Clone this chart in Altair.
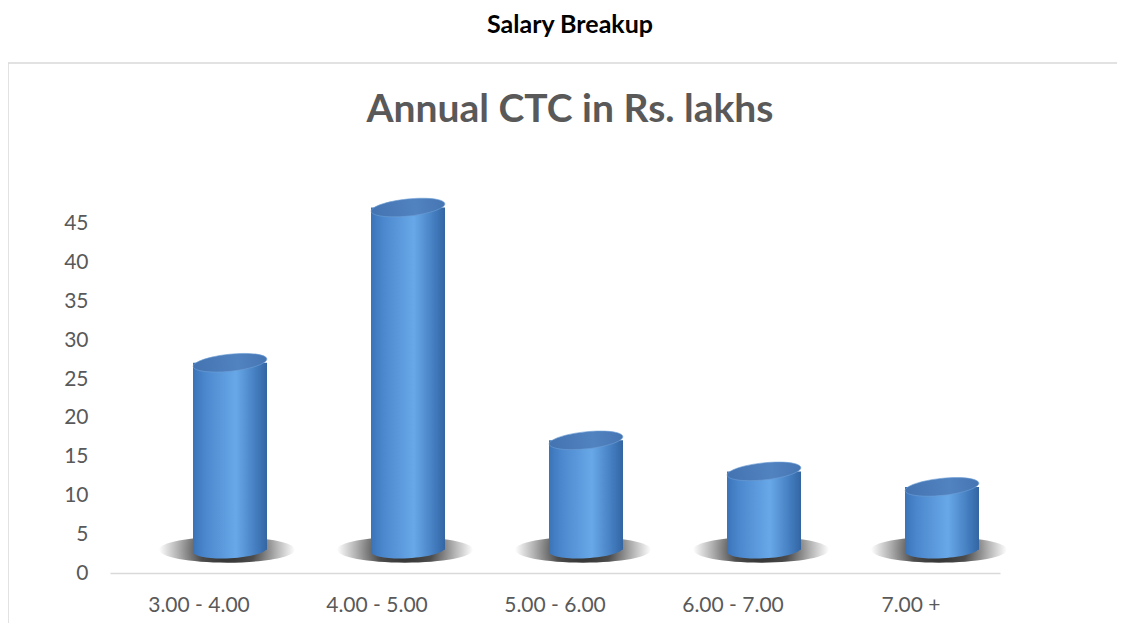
import altair as alt
import pandas as pd

# ---- data ----
categories = ["3.00 - 4.00", "4.00 - 5.00", "5.00 - 6.00", "6.00 - 7.00", "7.00 +"]
counts = [26, 46, 16, 12, 10]
y_ticks = [0, 5, 10, 15, 20, 25, 30, 35, 40, 45]
floor_value = 3  # apparent 3D floor level of the cylinders
main_title = "Salary Breakup"
chart_title = "Annual CTC in Rs. lakhs"

df = pd.DataFrame({"range": categories, "count": counts})

FONT = "Lato"
GREY = "#595959"
PLOT_W, PLOT_H = 890, 388
CYL_W = 74
CYL_DX = 31


def ellipse_path(ry):
    k = 0.5523
    return (
        f"M -1 0 C -1 {-k*ry:.4f} {-k:.4f} {-ry:.4f} 0 {-ry:.4f} "
        f"C {k:.4f} {-ry:.4f} 1 {-k*ry:.4f} 1 0 "
        f"C 1 {k*ry:.4f} {k:.4f} {ry:.4f} 0 {ry:.4f} "
        f"C {-k:.4f} {ry:.4f} -1 {k*ry:.4f} -1 0 Z"
    )


body_grad = alt.Gradient(
    gradient="linear", x1=0, x2=1, y1=0, y2=0,
    stops=[
        alt.GradientStop(offset=0, color="#3b73b8"),
        alt.GradientStop(offset=0.15, color="#4a86cc"),
        alt.GradientStop(offset=0.58, color="#68a8e8"),
        alt.GradientStop(offset=0.88, color="#4079bb"),
        alt.GradientStop(offset=1, color="#3465a2"),
    ],
)
top_grad = alt.Gradient(
    gradient="linear", x1=0, x2=1, y1=0, y2=0,
    stops=[
        alt.GradientStop(offset=0, color="#4373b0"),
        alt.GradientStop(offset=0.6, color="#5283c1"),
        alt.GradientStop(offset=1, color="#4575b2"),
    ],
)
shadow_grad = alt.Gradient(
    gradient="radial", x1=0.5, y1=0.5, r1=0, x2=0.5, y2=0.5, r2=0.5,
    stops=[
        alt.GradientStop(offset=0, color="#2a2a2a"),
        alt.GradientStop(offset=0.4, color="#4d4d4d"),
        alt.GradientStop(offset=0.72, color="#b0b0b0"),
        alt.GradientStop(offset=1, color="#ffffff"),
    ],
)

x_enc = alt.X(
    "range:N", sort=categories, title=None,
    scale=alt.Scale(paddingInner=0, paddingOuter=0),
    axis=alt.Axis(
        labelAngle=0, labelFontSize=21, labelColor=GREY, labelFont=FONT,
        labelPadding=21, ticks=False, domainColor="#d9d9d9", domainWidth=1.5,
        grid=False,
    ),
)
y_scale = alt.Scale(domain=[0, 50], nice=False)
y_enc = alt.Y(
    "count:Q", title=None, scale=y_scale,
    axis=alt.Axis(
        values=y_ticks, labelFontSize=21, labelColor=GREY, labelFont=FONT,
        labelPadding=22, ticks=False, domain=False, grid=False,
    ),
)

base = alt.Chart(df)

shadow = base.mark_point(
    shape=ellipse_path(0.19), filled=True, fill=shadow_grad, opacity=1,
    strokeWidth=0, size=136 * 136, xOffset=CYL_DX - 3, yOffset=0,
).encode(x=x_enc, y=alt.datum(floor_value, scale=y_scale))

bottom = base.mark_point(
    shape=ellipse_path(0.23), filled=True, fill=body_grad, opacity=1,
    strokeWidth=0, size=CYL_W * CYL_W, xOffset=CYL_DX, angle=357,
).encode(x=x_enc, y=alt.datum(floor_value, scale=y_scale))

body = base.mark_bar(
    width=CYL_W, xOffset=CYL_DX, yOffset=-8.5, fill=body_grad, opacity=1,
).encode(x=x_enc, y=y_enc, y2=alt.datum(floor_value))

top = base.mark_point(
    shape=ellipse_path(0.23), filled=True, fill=top_grad, opacity=1,
    stroke="#6d9fd6", strokeWidth=0.6, size=CYL_W * CYL_W,
    xOffset=CYL_DX, yOffset=-8.5, angle=354,
).encode(x=x_enc, y=y_enc)

single = alt.Data(values=[{}])

border = alt.Chart(single).mark_rect(
    filled=False, stroke="#d9d9d9", strokeWidth=1.5,
).encode(
    x=alt.value(-102), x2=alt.value(1100), y=alt.value(-122), y2=alt.value(500)
)

title1 = alt.Chart(single).mark_text(
    text=main_title, font=FONT, fontSize=25, fontWeight="bold",
    color="#000000", align="center", baseline="alphabetic",
).encode(x=alt.value(460), y=alt.value(-152))

title2 = alt.Chart(single).mark_text(
    text=chart_title, font=FONT, fontSize=39, fontWeight="bold",
    color=GREY, align="center", baseline="alphabetic",
).encode(x=alt.value(460), y=alt.value(-63))

chart = (
    alt.layer(border, title1, title2, shadow, bottom, body, top)
    .properties(
        width=PLOT_W,
        height=PLOT_H,
        autosize=alt.AutoSizeParams(type="none"),
        padding={"left": 102, "top": 177, "right": 117, "bottom": 50},
    )
    .configure_view(stroke=None)
)

chart.save("out.html", embed_options={"renderer": "svg", "actions": False})
